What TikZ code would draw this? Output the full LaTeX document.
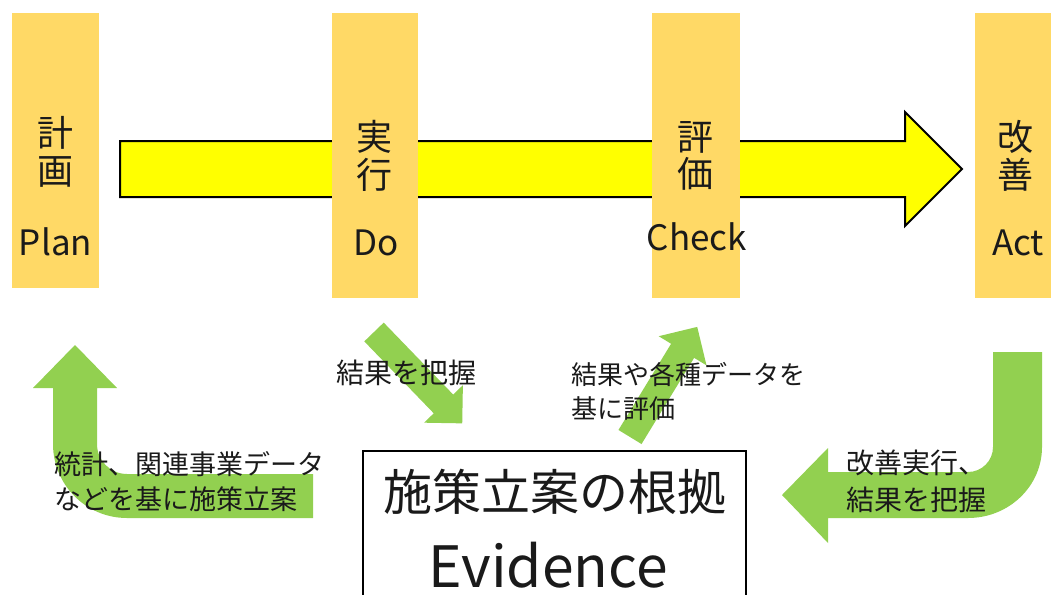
\documentclass[tikz,border=0pt]{standalone}
\usepackage{fontspec}
\setmainfont{Noto Sans CJK JP}
\definecolor{barc}{HTML}{FFD966}
\definecolor{grn}{HTML}{92D050}
\definecolor{yel}{HTML}{FFFF00}
\definecolor{txt}{HTML}{1A1A1A}
\begin{document}
\begin{tikzpicture}[x=1pt,y=-1pt,
  bar/.style={fill=barc, draw=none, inner sep=0pt, outer sep=0pt, anchor=north west},
  barjp/.style={text=txt, inner sep=0pt, align=center, font=\fontsize{36}{37.5}\selectfont},
  baren/.style={text=txt, inner sep=0pt, anchor=base, font=\fontsize{35}{35}\selectfont},
  lbl/.style={text=txt, inner sep=0pt, anchor=west, align=left, font=\fontsize{27}{35}\selectfont},
  garrow/.style={fill=grn, draw=none}
]
\useasboundingbox (0,0) rectangle (1051,594);
\clip (0,0) rectangle (1051,594);
\fill[white] (0,0) rectangle (1051,594);

% main yellow arrow
\draw[fill=yel, draw=black, line width=2pt, line join=miter]
  (120,141) -- (905,141) -- (905,112) -- (962,169) -- (905,226) -- (905,197) -- (120,197) -- cycle;

% bars
\node[bar, minimum width=87pt, minimum height=275pt] (plan) at (12,13) {};
\node[bar, minimum width=86pt, minimum height=285pt] (do) at (332,13) {};
\node[bar, minimum width=88pt, minimum height=285pt] (check) at (652,13) {};
\node[bar, minimum width=90pt, minimum height=285pt] (act) at (975,13) {};

\node[barjp] (planjp) at (55,152) {計\\画};
\node[barjp] (dojp) at (374,156) {実\\行};
\node[barjp] (checkjp) at (695,156) {評\\価};
\node[barjp] (actjp) at (1015,156) {改\\善};

\node[baren] (planen) at (55.5,255) {Plan};
\node[baren] (doen) at (376,255) {Do};
\node[baren] (checken) at (697,250) {Check};
\node[baren] (acten) at (1018,255) {Act};

% green arrows
% left U-turn arrow (up to Plan)
\fill[garrow]
  (313,474) -- (127,474) .. controls (110.4,474) and (97,460.6) .. (97,444)
  -- (97,388) -- (117,388) -- (75,345) -- (33,388) -- (53,388) -- (53,444)
  .. controls (53,484.9) and (86.1,518) .. (127,518) -- (313,518) -- cycle;
% right J arrow (from Act)
\fill[garrow]
  (993,352) -- (1042,352) -- (1042,447)
  .. controls (1042,486.2) and (1008.9,518) .. (968,518)
  -- (828,518) -- (828,543) -- (782,495) -- (828,448) -- (828,472) -- (968,472)
  .. controls (981.8,472) and (993,460.8) .. (993,447) -- cycle;
% Do -> evidence
\fill[garrow, shift={(374,332)}, rotate=-46]
  (0,-13.5) -- (100,-13.5) -- (100,-27) -- (127,0) -- (100,27) -- (100,13.5) -- (0,13.5) -- cycle;
% evidence -> Check
\fill[garrow, shift={(630,437)}, rotate=58.6]
  (0,-13.5) -- (101,-13.5) -- (101,-28) -- (129,0) -- (101,28) -- (101,13.5) -- (0,13.5) -- cycle;

% evidence box
\node[draw=black, line width=1.8pt, fill=none, minimum width=383pt, minimum height=170pt,
      anchor=north west, inner sep=0pt] (ev) at (362,450) {};
\node[text=txt, inner sep=0pt, font=\fontsize{49}{49}\selectfont] (evjp) at (555,492) {施策立案の根拠};
\node[text=txt, inner sep=0pt, anchor=base, font=\fontsize{57}{57}\selectfont] (even) at (548,587) {Evidence};

% labels
\node[lbl, font=\fontsize{28}{35}\selectfont] (l1) at (336,373) {結果を把握};
\node[lbl, font=\fontsize{26}{34}\selectfont] (l2) at (571,391.5) {結果や各種データを\\基に評価};
\node[lbl] (l3) at (54,482) {統計、関連事業データ\\などを基に施策立案};
\node[lbl, font=\fontsize{28}{37}\selectfont] (l4) at (846,481.5) {改善実行、\\結果を把握};
\end{tikzpicture}
\end{document}
